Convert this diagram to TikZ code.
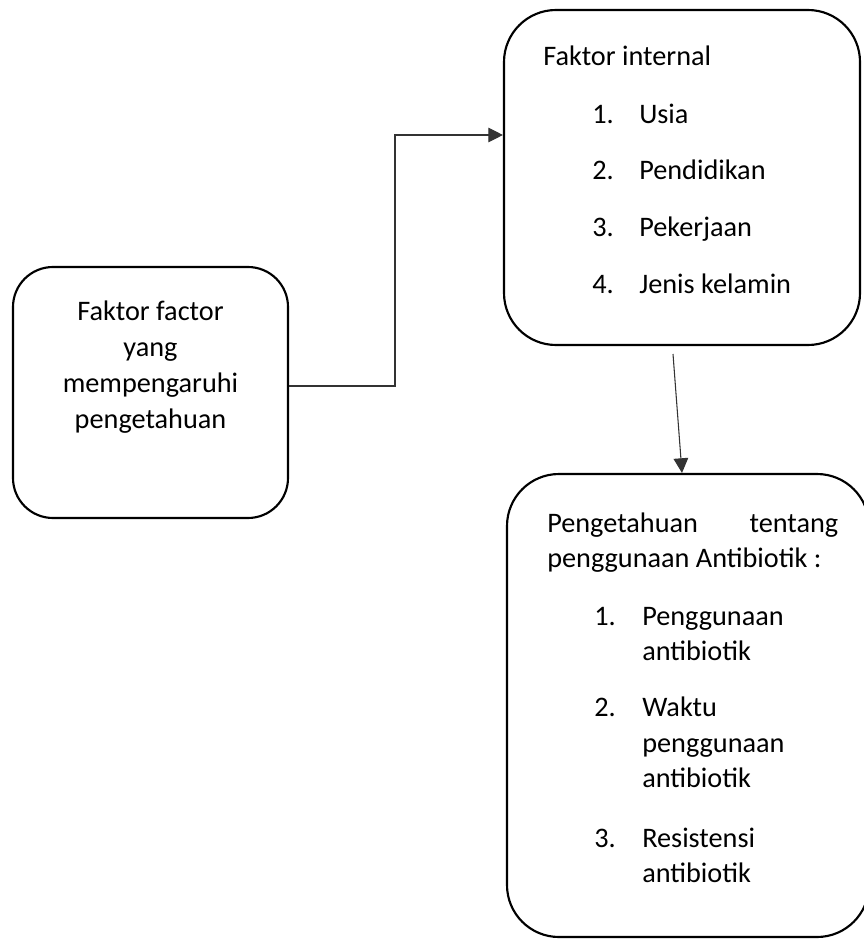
\documentclass[tikz,border=0pt]{standalone}
\usepackage{fontspec}
\setmainfont{Carlito}
\usetikzlibrary{arrows.meta,calc}
\begin{document}
\begin{tikzpicture}[x=0.75pt,y=-0.75pt,
  box/.style={draw=black,line width=1.6pt,rounded corners=#1,inner sep=0pt},
  txt/.style={inner sep=0pt,anchor=base west,font=\fontsize{21.2}{26.4}\selectfont},
  ctxt/.style={inner sep=0pt,anchor=base,font=\fontsize{21.2}{26.4}\selectfont},
  conn/.style={draw=black!80,line width=0.8pt,-{Triangle[length=11pt,width=11pt]}}]
\useasboundingbox (0,0) rectangle (864,939);
% boxes
\node[box=30pt,minimum width=206.25pt,minimum height=188.25pt] (b1) at (150.5,392.5) {};
\node[box=39pt,minimum width=267pt,minimum height=251.25pt] (b2) at (682,177.5) {};
\node[box=39pt,minimum width=271.5pt,minimum height=347.25pt] (b3) at (688,705.5) {};
% box 1 text
\node[ctxt] (a1) at (150.5,320) {Faktor factor};
\node[ctxt] (a2) at (150.5,356) {yang};
\node[ctxt] (a3) at (150.5,392) {mempengaruhi};
\node[ctxt] (a4) at (150.5,428) {pengetahuan};
% box 2 text
\node[txt] (f0) at (543,65) {Faktor internal};
\node[txt] (n1) at (592,123) {1.};
\node[txt] (f1) at (639,123) {Usia};
\node[txt] (n2) at (592,179) {2.};
\node[txt] (f2) at (639,179) {Pendidikan};
\node[txt] (n3) at (592,236) {3.};
\node[txt] (f3) at (639,236) {Pekerjaan};
\node[txt] (n4) at (592,293) {4.};
\node[txt] (f4) at (639,293) {Jenis kelamin};
% box 3 text
\node[txt] (p0) at (547,532) {\hbox to 218.25pt{Pengetahuan\hfill tentang}};
\node[txt] (p1) at (547,567) {penggunaan Antibiotik :};
\node[txt] (m1) at (594,625) {1.};
\node[txt] (q1) at (642,625) {Penggunaan};
\node[txt] (q1b) at (642,660) {antibiotik};
\node[txt] (m2) at (594,716) {2.};
\node[txt] (q2) at (642,716) {Waktu};
\node[txt] (q2b) at (642,752) {penggunaan};
\node[txt] (q2c) at (642,787) {antibiotik};
\node[txt] (m3) at (594,847) {3.};
\node[txt] (q3) at (642,847) {Resistensi};
\node[txt] (q3b) at (642,882) {antibiotik};
% connectors
\coordinate (k0) at (0,386);
\coordinate (k1) at (395,135);
\draw[conn] (b1.east |- k0) -| (k1) -- (b2.west |- k1);
\coordinate (s2) at (673,354);
\coordinate (t2) at (682,0);
\draw[conn] (s2) -- (b3.north -| t2);
\end{tikzpicture}
\end{document}
